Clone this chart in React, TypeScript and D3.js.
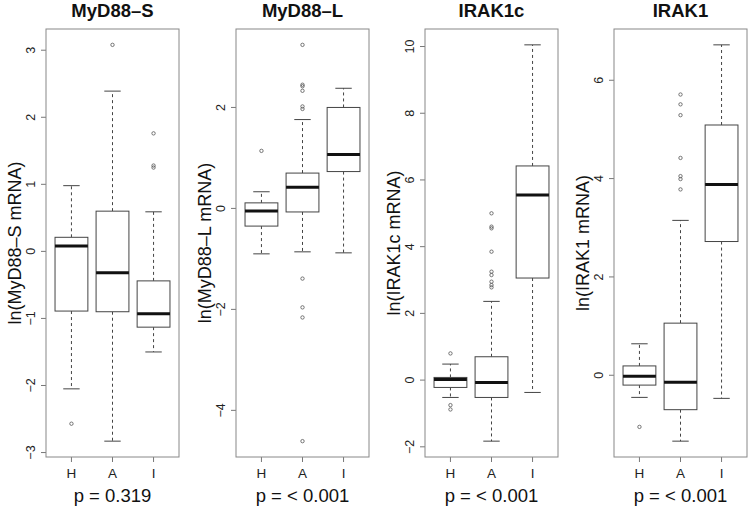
import React from "react";
import * as d3 from "d3";

// ---------- data ----------
const groups = ["H", "A", "I"];
const panelTitles = ["MyD88–S", "MyD88–L", "IRAK1c", "IRAK1"];
const yLabels = ["ln(MyD88–S mRNA)", "ln(MyD88–L mRNA)", "ln(IRAK1c mRNA)", "ln(IRAK1 mRNA)"];
const pValues = ["p = 0.319", "p = < 0.001", "p = < 0.001", "p = < 0.001"];

const myd88sTicks = [-3, -2, -1, 0, 1, 2, 3];
const myd88lTicks = [-4, -2, 0, 2];
const irak1cTicks = [-2, 0, 2, 4, 6, 8, 10];
const irak1Ticks = [0, 2, 4, 6];

// [lower whisker, Q1, median, Q3, upper whisker] for H, A, I
const myd88sStats = [
  [-2.05, -0.89, 0.08, 0.21, 0.98],
  [-2.83, -0.9, -0.32, 0.6, 2.39],
  [-1.5, -1.13, -0.93, -0.44, 0.59],
];
const myd88sOutliers = [[-2.57], [3.08], [1.25, 1.28, 1.76]];

const myd88lStats = [
  [-0.9, -0.35, -0.05, 0.11, 0.33],
  [-0.86, -0.07, 0.42, 0.7, 1.76],
  [-0.88, 0.73, 1.07, 2.0, 2.38],
];
const myd88lOutliers = [
  [1.14],
  [3.24, 2.45, 2.42, 2.33, 2.02, 1.97, -1.39, -1.96, -2.16, -4.61],
  [],
];

const irak1cStats = [
  [-0.52, -0.22, 0.02, 0.08, 0.48],
  [-1.83, -0.52, -0.07, 0.7, 2.36],
  [-0.37, 3.06, 5.55, 6.42, 10.05],
];
const irak1cOutliers = [
  [0.8, -0.75, -0.88],
  [5.0, 4.6, 4.55, 3.85, 3.25, 3.15, 2.95, 2.85, 2.78],
  [],
];

const irak1Stats = [
  [-0.45, -0.2, -0.02, 0.19, 0.64],
  [-1.34, -0.7, -0.14, 1.06, 3.15],
  [-0.47, 2.72, 3.88, 5.09, 6.72],
];
const irak1Outliers = [
  [-1.05],
  [5.71, 5.51, 5.29, 4.42, 4.05, 3.99, 3.78],
  [],
];

const panelStats = [myd88sStats, myd88lStats, irak1cStats, irak1Stats];
const panelOutliers = [myd88sOutliers, myd88lOutliers, irak1cOutliers, irak1Outliers];
const panelTicks = [myd88sTicks, myd88lTicks, irak1cTicks, irak1Ticks];

// ---------- layout ----------
const W = 748;
const H = 509;
const panelLefts = [46, 236, 425, 614];
const panelWidth = 133;
const plotTop = 29;
const plotBottom = 457;
const FONT = "'Liberation Sans', Arial, Helvetica, sans-serif";

function Panel({ idx }: { idx: number }) {
  const left = panelLefts[idx];
  const right = left + panelWidth;
  const stats = panelStats[idx];
  const outs = panelOutliers[idx];
  const allVals = [...stats.flat(), ...outs.flat()];
  const [mn, mx] = d3.extent(allVals) as [number, number];
  const ext = (mx - mn) * 0.04;
  const y = d3.scaleLinear().domain([mn - ext, mx + ext]).range([plotBottom, plotTop]);
  const x = d3
    .scaleLinear()
    .domain([0.5 - 3 * 0.04, 3.5 + 3 * 0.04])
    .range([left, right]);
  const halfBox = x(1.4) - x(1);
  const halfStaple = halfBox / 2;
  const cx = (left + right) / 2;
  const midY = (plotTop + plotBottom) / 2;

  return (
    <g>
      <text
        x={cx}
        y={17}
        textAnchor="middle"
        fontFamily={FONT}
        fontWeight="bold"
        fontSize={18.5}
        fill="#111"
      >
        {panelTitles[idx]}
      </text>
      <text
        x={cx}
        y={502}
        textAnchor="middle"
        fontFamily={FONT}
        fontSize={18.5}
        fill="#111"
      >
        {pValues[idx]}
      </text>
      <text
        transform={`translate(${left - 25},${midY}) rotate(-90)`}
        textAnchor="middle"
        fontFamily={FONT}
        fontSize={18}
        fill="#111"
      >
        {yLabels[idx]}
      </text>
      {/* y axis ticks */}
      {panelTicks[idx].map((t) => (
        <g key={t}>
          <line x1={left - 5} x2={left} y1={y(t)} y2={y(t)} stroke="#777" strokeWidth={1} />
          <text
            transform={`translate(${left - 11},${y(t)}) rotate(-90)`}
            textAnchor="middle"
            fontFamily={FONT}
            fontSize={12.5}
            fill="#222"
          >
            {t < 0 ? "\u2212" + Math.abs(t) : String(t)}
          </text>
        </g>
      ))}
      {/* x axis ticks */}
      {groups.map((g, i) => (
        <g key={g}>
          <line x1={x(i + 1)} x2={x(i + 1)} y1={plotBottom} y2={plotBottom + 5} stroke="#777" strokeWidth={1} />
          <text
            x={x(i + 1)}
            y={478}
            textAnchor="middle"
            fontFamily={FONT}
            fontSize={13.5}
            fill="#222"
          >
            {g}
          </text>
        </g>
      ))}
      {/* boxes */}
      {stats.map((s, i) => {
        const px = x(i + 1);
        const [lo, q1, med, q3, hi] = s;
        return (
          <g key={i}>
            <line x1={px} x2={px} y1={y(q3)} y2={y(hi)} stroke="#444" strokeDasharray="3,3" strokeWidth={1} />
            <line x1={px} x2={px} y1={y(q1)} y2={y(lo)} stroke="#444" strokeDasharray="3,3" strokeWidth={1} />
            <line x1={px - halfStaple} x2={px + halfStaple} y1={y(hi)} y2={y(hi)} stroke="#444" strokeWidth={1} />
            <line x1={px - halfStaple} x2={px + halfStaple} y1={y(lo)} y2={y(lo)} stroke="#444" strokeWidth={1} />
            <rect
              x={px - halfBox}
              y={y(q3)}
              width={halfBox * 2}
              height={y(q1) - y(q3)}
              fill="white"
              stroke="#444"
              strokeWidth={1}
            />
            <line x1={px - halfBox} x2={px + halfBox} y1={y(med)} y2={y(med)} stroke="#111" strokeWidth={3} />
            {outs[i].map((o, k) => (
              <circle key={k} cx={px} cy={y(o)} r={1.7} fill="none" stroke="#555" strokeWidth={0.8} />
            ))}
          </g>
        );
      })}
      {/* frame */}
      <rect
        x={left}
        y={plotTop}
        width={panelWidth}
        height={plotBottom - plotTop}
        fill="none"
        stroke="#888"
        strokeWidth={1}
      />
    </g>
  );
}

export default function App() {
  return (
    <svg
      width={W}
      height={H}
      style={{ position: "absolute", left: 0, top: 0, background: "white" }}
    >
      <rect width={W} height={H} fill="white" />
      {[0, 1, 2, 3].map((i) => (
        <Panel key={i} idx={i} />
      ))}
    </svg>
  );
}
